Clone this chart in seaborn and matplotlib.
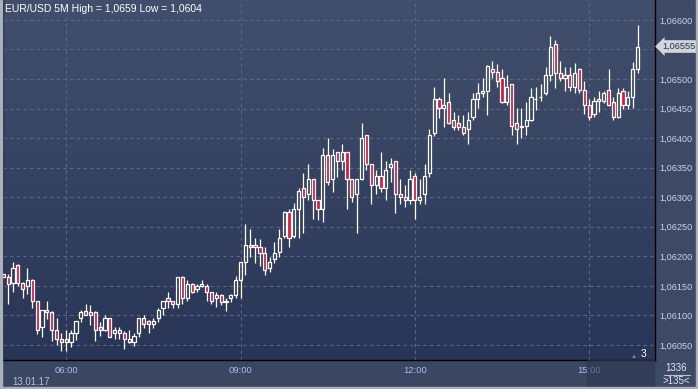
import numpy as np
import pandas as pd
import seaborn as sns
import matplotlib.pyplot as plt
from matplotlib.colors import LinearSegmentedColormap
from matplotlib.patches import Rectangle
from matplotlib.lines import Line2D
from matplotlib.ticker import FuncFormatter
import matplotlib.transforms as mtransforms

# EUR/USD 5M candles, 13.01.17
opens = [1.06170, 1.06165, 1.06155, 1.06185, 1.06155, 1.06150, 1.06160, 1.06124, 1.06080, 1.06109,
         1.06106, 1.06075, 1.06060, 1.06060, 1.06055, 1.06070, 1.06095, 1.06108, 1.06105, 1.06106,
         1.06080, 1.06075, 1.06095, 1.06070, 1.06075, 1.06070, 1.06060, 1.06055, 1.06070, 1.06095,
         1.06091, 1.06085, 1.06095, 1.06113, 1.06129, 1.06124, 1.06119, 1.06165, 1.06129, 1.06154,
         1.06144, 1.06149, 1.06149, 1.06139, 1.06129, 1.06135, 1.06123, 1.06129, 1.06135, 1.06160,
         1.06190, 1.06220, 1.06220, 1.06215, 1.06205, 1.06180, 1.06195, 1.06207, 1.06234, 1.06275,
         1.06234, 1.06280, 1.06315, 1.06305, 1.06330, 1.06295, 1.06280, 1.06371, 1.06330, 1.06376,
         1.06361, 1.06376, 1.06330, 1.06305, 1.06330, 1.06405, 1.06356, 1.06320, 1.06336, 1.06315,
         1.06351, 1.06361, 1.06305, 1.06300, 1.06295, 1.06336, 1.06295, 1.06305, 1.06341, 1.06409,
         1.06466, 1.06451, 1.06461, 1.06430, 1.06425, 1.06419, 1.06415, 1.06435, 1.06466, 1.06476,
         1.06480, 1.06517, 1.06512, 1.06501, 1.06461, 1.06491, 1.06425, 1.06418, 1.06420, 1.06430,
         1.06466, 1.06469, 1.06476, 1.06507, 1.06559, 1.06511, 1.06501, 1.06506, 1.06487, 1.06517,
         1.06482, 1.06456, 1.06440, 1.06462, 1.06462, 1.06482, 1.06461, 1.06435, 1.06480, 1.06456,
         1.06470, 1.06517]
highs = [1.06172, 1.06170, 1.06190, 1.06187, 1.06157, 1.06180, 1.06161, 1.06125, 1.06110, 1.06124,
         1.06107, 1.06096, 1.06070, 1.06075, 1.06075, 1.06091, 1.06110, 1.06119, 1.06118, 1.06107,
         1.06089, 1.06101, 1.06096, 1.06081, 1.06081, 1.06074, 1.06075, 1.06070, 1.06096, 1.06101,
         1.06092, 1.06095, 1.06113, 1.06125, 1.06139, 1.06125, 1.06165, 1.06166, 1.06160, 1.06155,
         1.06154, 1.06160, 1.06154, 1.06140, 1.06139, 1.06136, 1.06130, 1.06136, 1.06166, 1.06191,
         1.06254, 1.06246, 1.06231, 1.06230, 1.06215, 1.06199, 1.06225, 1.06246, 1.06276, 1.06280,
         1.06290, 1.06316, 1.06341, 1.06357, 1.06331, 1.06296, 1.06383, 1.06400, 1.06382, 1.06377,
         1.06390, 1.06377, 1.06331, 1.06331, 1.06425, 1.06406, 1.06357, 1.06346, 1.06376, 1.06361,
         1.06366, 1.06362, 1.06330, 1.06320, 1.06346, 1.06341, 1.06330, 1.06356, 1.06415, 1.06486,
         1.06470, 1.06501, 1.06476, 1.06445, 1.06439, 1.06439, 1.06445, 1.06476, 1.06493, 1.06501,
         1.06523, 1.06530, 1.06525, 1.06517, 1.06507, 1.06492, 1.06451, 1.06451, 1.06461, 1.06484,
         1.06487, 1.06492, 1.06521, 1.06572, 1.06566, 1.06530, 1.06521, 1.06521, 1.06527, 1.06518,
         1.06496, 1.06466, 1.06470, 1.06480, 1.06480, 1.06517, 1.06470, 1.06484, 1.06484, 1.06480,
         1.06529, 1.06591]
lows = [1.06163, 1.06119, 1.06140, 1.06149, 1.06130, 1.06136, 1.06113, 1.06069, 1.06064, 1.06094,
        1.06056, 1.06050, 1.06039, 1.06039, 1.06047, 1.06058, 1.06089, 1.06100, 1.06084, 1.06056,
        1.06065, 1.06074, 1.06063, 1.06060, 1.06060, 1.06044, 1.06054, 1.06049, 1.06064, 1.06079,
        1.06070, 1.06078, 1.06089, 1.06101, 1.06113, 1.06113, 1.06113, 1.06119, 1.06124, 1.06138,
        1.06139, 1.06148, 1.06124, 1.06119, 1.06114, 1.06118, 1.06108, 1.06123, 1.06129, 1.06129,
        1.06168, 1.06199, 1.06189, 1.06183, 1.06168, 1.06174, 1.06189, 1.06199, 1.06231, 1.06215,
        1.06231, 1.06231, 1.06240, 1.06295, 1.06264, 1.06261, 1.06258, 1.06320, 1.06309, 1.06335,
        1.06346, 1.06280, 1.06292, 1.06240, 1.06329, 1.06346, 1.06289, 1.06305, 1.06309, 1.06295,
        1.06325, 1.06274, 1.06289, 1.06284, 1.06289, 1.06264, 1.06289, 1.06289, 1.06335, 1.06404,
        1.06434, 1.06418, 1.06424, 1.06414, 1.06414, 1.06405, 1.06390, 1.06430, 1.06451, 1.06470,
        1.06439, 1.06501, 1.06486, 1.06459, 1.06456, 1.06405, 1.06390, 1.06400, 1.06405, 1.06429,
        1.06448, 1.06462, 1.06473, 1.06496, 1.06484, 1.06496, 1.06480, 1.06480, 1.06476, 1.06476,
        1.06440, 1.06430, 1.06436, 1.06445, 1.06460, 1.06455, 1.06430, 1.06434, 1.06449, 1.06449,
        1.06451, 1.06511]
closes = [1.06165, 1.06154, 1.06180, 1.06155, 1.06145, 1.06160, 1.06124, 1.06075, 1.06109, 1.06106,
          1.06075, 1.06060, 1.06055, 1.06055, 1.06070, 1.06091, 1.06106, 1.06101, 1.06100, 1.06075,
          1.06075, 1.06095, 1.06064, 1.06075, 1.06070, 1.06060, 1.06055, 1.06065, 1.06095, 1.06085,
          1.06085, 1.06091, 1.06109, 1.06124, 1.06124, 1.06119, 1.06165, 1.06129, 1.06154, 1.06139,
          1.06149, 1.06154, 1.06139, 1.06124, 1.06135, 1.06123, 1.06125, 1.06135, 1.06160, 1.06190,
          1.06220, 1.06215, 1.06215, 1.06205, 1.06177, 1.06190, 1.06205, 1.06231, 1.06275, 1.06231,
          1.06280, 1.06311, 1.06301, 1.06330, 1.06295, 1.06280, 1.06371, 1.06325, 1.06371, 1.06361,
          1.06376, 1.06330, 1.06300, 1.06330, 1.06400, 1.06356, 1.06320, 1.06336, 1.06315, 1.06346,
          1.06356, 1.06305, 1.06300, 1.06295, 1.06330, 1.06295, 1.06300, 1.06336, 1.06405, 1.06466,
          1.06451, 1.06456, 1.06425, 1.06419, 1.06419, 1.06409, 1.06430, 1.06466, 1.06476, 1.06480,
          1.06522, 1.06512, 1.06496, 1.06461, 1.06486, 1.06421, 1.06415, 1.06421, 1.06431, 1.06470,
          1.06467, 1.06470, 1.06507, 1.06555, 1.06511, 1.06501, 1.06506, 1.06487, 1.06511, 1.06482,
          1.06456, 1.06436, 1.06462, 1.06466, 1.06476, 1.06456, 1.06435, 1.06476, 1.06456, 1.06470,
          1.06517, 1.06555]

time_ticks = [13, 49, 85, 121]
time_labels = ["06:00", "09:00", "12:00", "15:00"]
price_ticks = [1.0605, 1.0610, 1.0615, 1.0620, 1.0625, 1.0630,
               1.0635, 1.0640, 1.0645, 1.0650, 1.0655, 1.0660]
last_price = 1.06555

df = pd.DataFrame({"open": opens, "high": highs, "low": lows, "close": closes})
df["n"] = np.arange(len(df))
df["top"] = df[["open", "close"]].max(axis=1)
df["bot"] = df[["open", "close"]].min(axis=1)
up = df["close"] >= df["open"]

sns.set_theme(style="dark")
plt.rcParams["font.family"] = ["Liberation Sans", "DejaVu Sans"]

W, H = 698, 389
fig = plt.figure(figsize=(W / 100, H / 100), dpi=100)
fig.patch.set_facecolor("#3d4965")

# bottom time strip
fig.add_artist(Rectangle((0, 0), 655 / W, 29 / H, transform=fig.transFigure,
                         color="#3a4662", zorder=-1))

ax = fig.add_axes([3 / W, 29 / H, 652 / W, 360 / H])
xlim = (-0.06, 134.6)
ylim = (1.060246, 1.066337)

# gradient background
bg = LinearSegmentedColormap.from_list("bg", ["#424f6c", "#283556"])
ax.imshow(np.linspace(0, 1, 256).reshape(-1, 1), cmap=bg, aspect="auto",
          extent=[xlim[0], xlim[1], ylim[0], ylim[1]], origin="upper", zorder=0)

# wicks
ax.vlines(df["n"], df["top"], df["high"], color="white", lw=0.9, zorder=2)
ax.vlines(df["n"], df["low"], df["bot"], color="white", lw=0.9, zorder=2)

# bodies
ax.bar(df["n"][up], (df["close"] - df["open"])[up], bottom=df["open"][up], width=0.66,
       facecolor="none", edgecolor="white", linewidth=0.9, zorder=3)
ax.bar(df["n"][~up], (df["open"] - df["close"])[~up], bottom=df["close"][~up], width=0.66,
       facecolor="#e0163d", edgecolor="white", linewidth=0.9, zorder=3)


def price_fmt(v, p):
    # the 1,06550 label sits under the last-price tag
    if abs(v - 1.0655) < 1e-7:
        return ""
    return f"{v:.5f}".replace(".", ",")


ax.set_xlim(*xlim)
ax.set_ylim(*ylim)
ax.set_xticks(time_ticks)
ax.set_xticklabels(time_labels)
ax.set_yticks(price_ticks)
ax.yaxis.set_major_formatter(FuncFormatter(price_fmt))
ax.yaxis.tick_right()
ax.tick_params(axis="y", length=0, pad=3, labelsize=6.6, labelcolor="#c6d4ec")
ax.tick_params(axis="x", length=0, pad=4, labelsize=6.8, labelcolor="#a6bfe2")
ax.set_axisbelow(True)
ax.grid(True, color="#5a6785", linestyle=(0, (3, 3)), linewidth=0.8)
ax.spines["top"].set_visible(False)
ax.spines["right"].set_color("black")
ax.spines["bottom"].set_color("black")
ax.spines["left"].set_color("#1c2438")
for side in ["right", "bottom", "left"]:
    ax.spines[side].set_linewidth(1.0)

# last price tag
trans = mtransforms.blended_transform_factory(ax.transAxes, ax.transData)
ax.text(1.0107, last_price, f"{last_price:.5f}".replace(".", ","), transform=trans,
        ha="left", va="center", fontsize=6.6, color="#24304a", clip_on=False, zorder=6,
        bbox=dict(boxstyle="larrow,pad=0.2", fc="#d0d5de", ec="none"))

# texts
fig.text(5 / W, 1 - 9 / H, "EUR/USD 5M High = 1,0659 Low = 1,0604", color="white",
         fontsize=7.5, ha="left", va="center")
fig.text(12 / W, 1 - 382 / H, "13.01.17", color="#b2c0d8", fontsize=7,
         ha="left", va="center")
fig.text(644 / W, 1 - 354 / H, "3", color="white", fontsize=7.5, ha="center", va="center")
fig.text(634 / W, 1 - 356 / H, "\u25b2", color="#7c8aa4", fontsize=4.5,
         ha="center", va="center")

# scroll box over the time strip
fig.add_artist(Rectangle((587 / W, 2 / H), 67 / W, 27 / H, transform=fig.transFigure,
                         color="#2c3852", alpha=0.55, zorder=5))

# counter box
fig.text(676 / W, 1 - 368 / H, "1336", color="#e2e8f2", fontsize=7, ha="center", va="center")
fig.add_artist(Line2D([664 / W, 690 / W], [1 - 375 / H] * 2, transform=fig.transFigure,
                      color="#b8c2d4", lw=0.8))
fig.text(676 / W, 1 - 381 / H, ">135<", color="#e2e8f2", fontsize=7, ha="center", va="center")

# outer frame
for rect in [(0, 0, 2 / W, 1), (0, 0, 1, 2 / H), (1 - 2 / W, 0, 2 / W, 1)]:
    fig.add_artist(Rectangle(rect[:2], rect[2], rect[3], transform=fig.transFigure,
                             color="#a9b1bd", zorder=10))

fig.savefig("out.png", dpi=100, facecolor=fig.get_facecolor())
